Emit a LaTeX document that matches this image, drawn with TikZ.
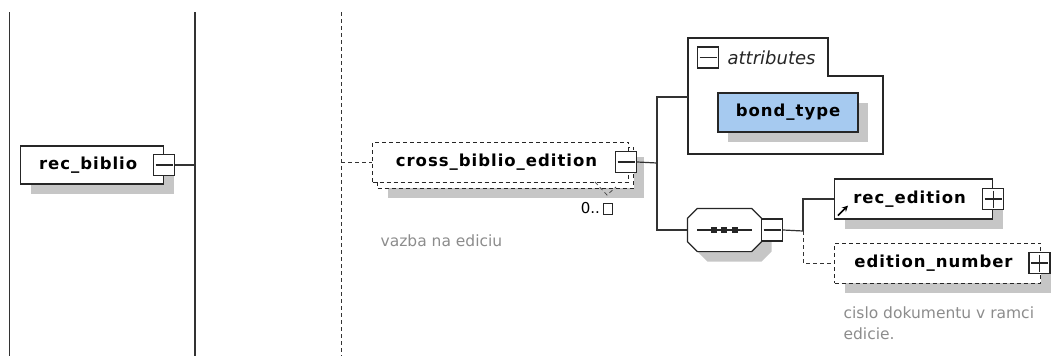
\documentclass[tikz,border=0pt]{standalone}
\usepackage{fontspec}
\usepackage{tikz}
\usetikzlibrary{shadows,arrows.meta}
\newfontfamily\elfont{DejaVu Sans}[LetterSpace=6]
\newfontfamily\notefont{DejaVu Sans}
\definecolor{attrblue}{RGB}{166,202,240}
\definecolor{shadowgray}{RGB}{198,198,198}

\begin{document}
\begin{tikzpicture}[x=1pt,y=-1pt,line width=1.2pt,
  elem/.style={draw=black!85,fill=white,anchor=west,minimum height=38pt,inner xsep=0pt,
    font=\elfont\bfseries\fontsize{16.5}{18}\selectfont,execute at end node=\hspace{8pt}},
  shadowed/.style={drop shadow={shadow xshift=10pt,shadow yshift=-10pt,fill=shadowgray,opacity=1}},
  opt/.style={line width=1pt,dash pattern=on 4pt off 3pt},
  pm/.style={draw=black!85,fill=white,minimum size=21pt,inner sep=0pt},
  minusbox/.style={pm,path picture={\draw[black!85] ([xshift=2pt]path picture bounding box.west) -- ([xshift=-2pt]path picture bounding box.east);}},
  plusbox/.style={pm,path picture={\draw[black!85] ([xshift=2pt]path picture bounding box.west) -- ([xshift=-2pt]path picture bounding box.east)
    ([yshift=-2pt]path picture bounding box.north) -- ([yshift=2pt]path picture bounding box.south);}},
  note/.style={anchor=west,inner sep=0pt,text=black!45,font=\notefont\fontsize{15.5}{18}\selectfont}]
  \useasboundingbox (0,0) rectangle (1051,356);
  \coordinate (b1top) at (9.5,12);
  \coordinate (b1bot) at (9.5,356);
  \coordinate (b2top) at (195,12);
  \coordinate (b2bot) at (195,356);
  \coordinate (b3top) at (341,12);
  \coordinate (b3bot) at (341,356);
  \draw[black!80] (b1top) -- (b1bot);
  \draw[black!80] (b2top) -- (b2bot);
  \draw[black!80,opt] (b3top) -- (b3bot);
  \node[elem,shadowed,minimum width=143pt] (biblio) at (20,165) {rec\_biblio};
  \node[minusbox] (biblio-m) at (biblio.east) {};
  \draw[black!80] (biblio-m.east) -- (biblio-m.east -| b2top);
  \node[elem,opt,shadowed,minimum width=256pt,minimum height=41pt] (cross-back) at (377,167.5) {};
  \node[elem,opt,minimum width=256pt,minimum height=40pt] (cross) at (372,162) {cross\_biblio\_edition};
  \node[minusbox] (cross-m) at ([xshift=-3pt]cross.east) {};
  \draw[black!80,opt] (cross.west -| b3top) -- (cross.west);
  \draw[black!70,opt,line width=0.8pt] (595,182) -- (607,195) -- (616,187);
  \node[pm,minimum width=9pt,minimum height=11pt,line width=0.8pt] (card) at (607.5,208.5) {};
  \node[anchor=east,inner sep=0pt,font=\notefont\fontsize{15}{16}\selectfont] (card-t) at ([xshift=-2pt]card.west) {0..};
  \node[note] (cross-note) at (380,241) {vazba na ediciu};
  \coordinate (cross-j) at (657,163);
  \coordinate (attr) at (688,97);
  \draw[black!85,fill=white] (688,38) -- (828,38) -- (828,76) -- (883,76) -- (883,154) -- (688,154) -- cycle;
  \node[minusbox] (attr-m) at (708,57.5) {};
  \node[anchor=west,inner sep=0pt,text=black!85,font=\notefont\itshape\fontsize{18}{20}\selectfont] (attr-t) at (727,58) {attributes};
  \node[draw=black!85,fill=attrblue,shadowed,minimum width=140pt,minimum height=39pt,inner sep=0pt,
    font=\elfont\bfseries\fontsize{16.5}{18}\selectfont] (bond) at (788,112.5) {bond\_type};
  \node[minimum width=73pt,minimum height=42pt,inner sep=0pt] (seq) at (724.5,230) {};
  \draw[black!85,fill=white,shadowed] ([xshift=10pt]seq.north west) -- ([xshift=-10pt]seq.north east)
    -- ([yshift=-10pt]seq.north east) -- ([yshift=10pt]seq.south east) -- ([xshift=-10pt]seq.south east)
    -- ([xshift=10pt]seq.south west) -- ([yshift=10pt]seq.south west) -- ([yshift=-10pt]seq.north west) -- cycle;
  \draw[black!85] ([xshift=10pt]seq.west) -- ([xshift=-10pt]seq.east);
  \foreach \dx in {-11,-1,10}
    \fill[black!85] ([xshift=\dx pt]seq.center) +(-3,-3) rectangle +(3,3);
  \node[minusbox,minimum height=22pt] (seq-m) at ([xshift=10.5pt]seq.east) {};
  \draw[black!80] (cross-m.east) -- (cross-j);
  \draw[black!80] (attr) -| (cross-j) |- (seq.west);
  \coordinate (seq-j) at (803,231);
  \node[elem,shadowed,minimum width=158pt,minimum height=40pt] (edition) at (834,199) {rec\_edition};
  \node[plusbox] (edition-p) at (edition.east) {};
  \draw[-{Stealth[length=6pt,width=6pt]},line width=1.6pt] ([shift={(4,-4)}]edition.south west) -- ++(10,-10);
  \node[elem,opt,shadowed,minimum width=206pt,minimum height=40pt] (number) at (834,263) {edition\_number};
  \node[plusbox] (number-p) at ([xshift=-1.5pt]number.east) {};
  \draw[black!80] (seq-m.east) -- (seq-j);
  \draw[black!80] (seq-j) |- (edition.west);
  \draw[black!80,opt] (seq-j) |- (number.west);
  \node[note] (number-note) at (843,313) {cislo dokumentu v ramci};
  \node[note] (number-note2) at (843,334) {edicie.};
\end{tikzpicture}
\end{document}
